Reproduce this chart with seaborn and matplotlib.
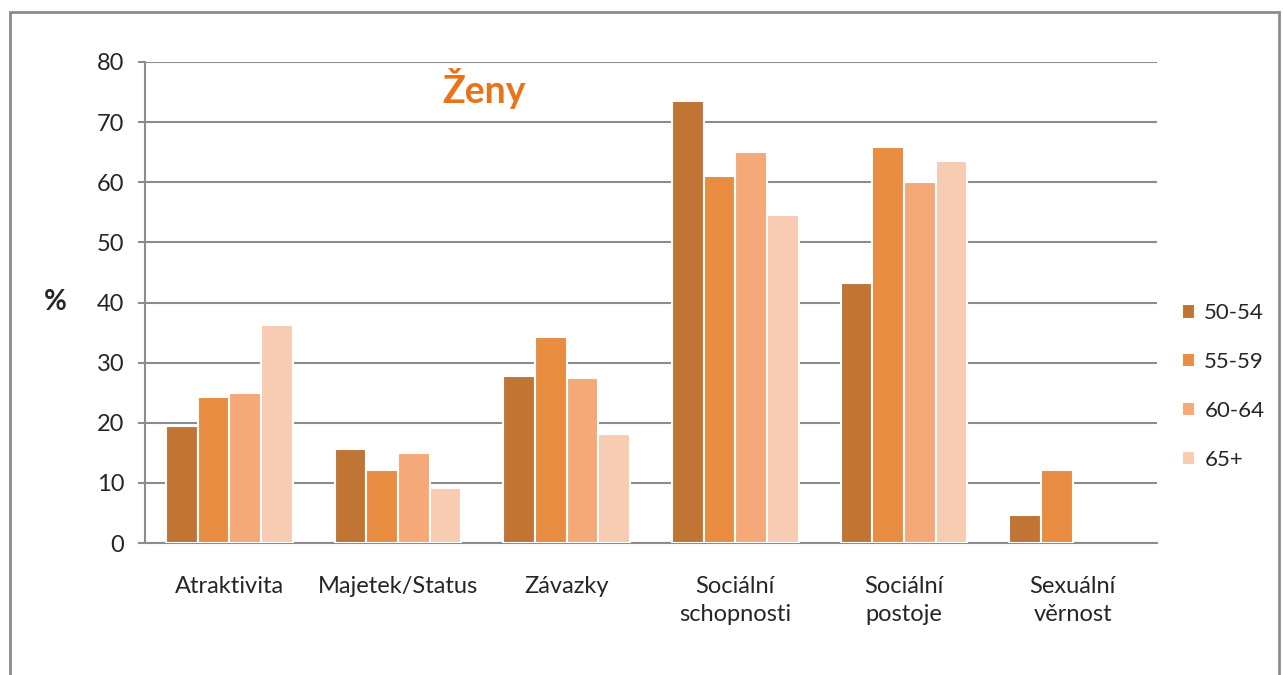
import numpy as np
import pandas as pd
import seaborn as sns
import matplotlib.pyplot as plt
from matplotlib.patches import Rectangle

categories = ["Atraktivita", "Majetek/Status", "Závazky", "Sociální\nschopnosti",
              "Sociální\npostoje", "Sexuální\nvěrnost"]
age_groups = ["50-54", "55-59", "60-64", "65+"]
v_50_54 = [19.4, 15.7, 27.7, 73.5, 43.3, 4.7]
v_55_59 = [24.3, 12.2, 34.2, 61.0, 65.8, 12.1]
v_60_64 = [24.9, 14.9, 27.5, 65.0, 60.0, np.nan]
v_65 = [36.3, 9.1, 18.2, 54.5, 63.6, np.nan]
colors = ["#C07535", "#E88C42", "#F6A978", "#F8CBB3"]

rows = []
for grp, vals in zip(age_groups, [v_50_54, v_55_59, v_60_64, v_65]):
    for cat, v in zip(categories, vals):
        rows.append({"kategorie": cat, "vek": grp, "procento": v})
df = pd.DataFrame(rows)

sns.set_style("white")
plt.rcParams['font.family'] = ['Lato', 'DejaVu Sans']

fig = plt.figure(figsize=(12.83, 6.75), dpi=100)
ax = fig.add_axes([145 / 1283, 1 - 543 / 675, (1157 - 145) / 1283, (543 - 62) / 675])

sns.barplot(data=df, x="kategorie", y="procento", hue="vek", order=categories,
            hue_order=age_groups, palette=colors, saturation=1, width=0.75,
            edgecolor="white", linewidth=1.5, ax=ax, zorder=3)

ax.set_ylim(0, 80)
ax.set_yticks(range(0, 81, 10))
ax.yaxis.grid(True, color="#8c8c8c", linewidth=1.5, zorder=0)
ax.set_axisbelow(True)
for s in ["top", "right"]:
    ax.spines[s].set_visible(False)
for s in ["left", "bottom"]:
    ax.spines[s].set_color("#8c8c8c")
    ax.spines[s].set_linewidth(1.5)
ax.tick_params(axis="y", left=True, length=5, width=1.5, color="#8c8c8c",
               labelsize=17, pad=10)
ax.tick_params(axis="x", bottom=False, labelsize=17, pad=20)
for lbl in ax.get_xticklabels():
    lbl.set_linespacing(1.45)
ax.set_xlabel("")
ax.set_ylabel("%", fontsize=20, fontweight="bold", rotation=0, va="center", ha="center")
ax.yaxis.set_label_coords(-0.089, 0.5)

ax.text(0.335, 0.945, "Ženy", transform=ax.transAxes, ha="center", va="center",
        fontsize=27, fontweight="bold", color="#E97316")

ax.legend(loc="center left", bbox_to_anchor=(1.005, 0.325), frameon=False,
          fontsize=16, handlelength=0.6, handleheight=0.6, labelspacing=1.3,
          handletextpad=0.4)

fig.add_artist(Rectangle((10 / 1283, -0.05), 1269 / 1283, 1.05 - 12 / 675,
                         transform=fig.transFigure, fill=False,
                         edgecolor="#8c8c8c", linewidth=2))

fig.savefig("out.png", dpi=100)
